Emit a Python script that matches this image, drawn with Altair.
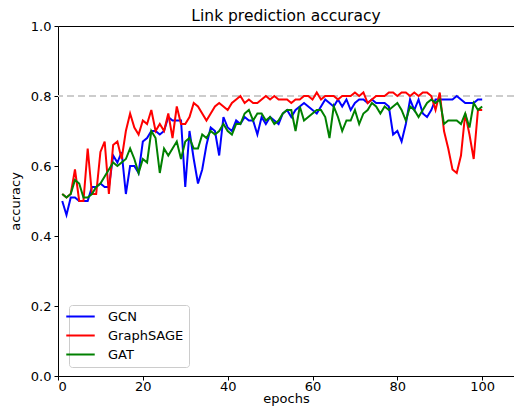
import altair as alt
import pandas as pd

epochs = list(range(1, 101))

gcn = [0.50, 0.46, 0.51, 0.51, 0.50, 0.50, 0.50, 0.54, 0.54, 0.55,
       0.54, 0.54, 0.63, 0.61, 0.64, 0.52, 0.60, 0.60, 0.58, 0.67,
       0.68, 0.70, 0.70, 0.69, 0.70, 0.74, 0.73, 0.73, 0.73, 0.54,
       0.70, 0.62, 0.55, 0.59, 0.66, 0.71, 0.70, 0.63, 0.74, 0.71,
       0.70, 0.73, 0.72, 0.74, 0.73, 0.73, 0.69, 0.74, 0.72, 0.74,
       0.73, 0.72, 0.75, 0.76, 0.74, 0.76, 0.77, 0.78, 0.77, 0.76,
       0.75, 0.77, 0.79, 0.78, 0.77, 0.79, 0.77, 0.79, 0.76, 0.78,
       0.79, 0.79, 0.78, 0.79, 0.78, 0.78, 0.78, 0.77, 0.69, 0.70,
       0.67, 0.72, 0.79, 0.76, 0.79, 0.75, 0.74, 0.76, 0.79, 0.79,
       0.79, 0.79, 0.79, 0.80, 0.79, 0.78, 0.78, 0.78, 0.79, 0.79]

graphsage = [0.52, 0.51, 0.52, 0.59, 0.50, 0.50, 0.65, 0.52, 0.52, 0.64,
             0.67, 0.52, 0.66, 0.67, 0.62, 0.70, 0.75, 0.71, 0.69, 0.73,
             0.72, 0.76, 0.70, 0.72, 0.70, 0.75, 0.68, 0.77, 0.72, 0.72,
             0.74, 0.78, 0.77, 0.75, 0.73, 0.75, 0.77, 0.78, 0.77, 0.76,
             0.78, 0.79, 0.80, 0.78, 0.79, 0.78, 0.78, 0.79, 0.80, 0.79,
             0.80, 0.79, 0.79, 0.79, 0.78, 0.79, 0.79, 0.80, 0.80, 0.79,
             0.81, 0.79, 0.80, 0.80, 0.80, 0.79, 0.80, 0.80, 0.80, 0.81,
             0.80, 0.81, 0.78, 0.79, 0.80, 0.80, 0.80, 0.81, 0.81, 0.80,
             0.81, 0.81, 0.80, 0.81, 0.80, 0.81, 0.81, 0.80, 0.76, 0.81,
             0.70, 0.65, 0.59, 0.58, 0.63, 0.75, 0.69, 0.62, 0.76, 0.76]

gat = [0.52, 0.51, 0.52, 0.56, 0.55, 0.51, 0.51, 0.52, 0.54, 0.55,
       0.57, 0.59, 0.61, 0.60, 0.61, 0.62, 0.65, 0.62, 0.58, 0.62,
       0.61, 0.70, 0.68, 0.58, 0.65, 0.63, 0.65, 0.67, 0.62, 0.67,
       0.68, 0.65, 0.65, 0.69, 0.68, 0.70, 0.69, 0.70, 0.72, 0.70,
       0.69, 0.72, 0.72, 0.75, 0.76, 0.73, 0.75, 0.75, 0.73, 0.74,
       0.72, 0.73, 0.75, 0.76, 0.76, 0.70, 0.77, 0.73, 0.74, 0.75,
       0.76, 0.76, 0.74, 0.68, 0.77, 0.74, 0.70, 0.73, 0.73, 0.76,
       0.72, 0.75, 0.76, 0.78, 0.77, 0.75, 0.77, 0.76, 0.77, 0.78,
       0.76, 0.73, 0.77, 0.76, 0.74, 0.76, 0.78, 0.79, 0.78, 0.79,
       0.72, 0.73, 0.73, 0.73, 0.72, 0.75, 0.71, 0.78, 0.76, 0.77]

series_names = ["GCN", "GraphSAGE", "GAT"]
series_colors = ["#0000ff", "#ff0000", "#008000"]
x_ticks = [0, 20, 40, 60, 80, 100]
y_ticks = [0.0, 0.2, 0.4, 0.6, 0.8, 1.0]
reference_level = [0.8]

df = pd.DataFrame({
    "epoch": epochs * 3,
    "accuracy": gcn + graphsage + gat,
    "model": ["GCN"] * 100 + ["GraphSAGE"] * 100 + ["GAT"] * 100,
})

FONT = "DejaVu Sans"
x_scale = alt.Scale(domain=[0, 107.5], nice=False, zero=False)
y_scale = alt.Scale(domain=[0, 1], nice=False)

axis_common = dict(
    domainColor="black", tickColor="black", labelColor="black", titleColor="black",
    tickSize=4, labelFont=FONT, labelFontSize=13,
    titleFont=FONT, titleFontSize=13, titleFontWeight="normal", grid=False,
)

ref = alt.Chart(pd.DataFrame({"level": reference_level})).mark_rule(
    color="#cccccc", strokeDash=[7, 4], strokeWidth=2
).encode(y=alt.Y("level:Q", scale=y_scale))

top_frame = alt.Chart(pd.DataFrame({"epoch": x_ticks})).mark_point(opacity=0).encode(
    x=alt.X("epoch:Q", scale=x_scale,
            axis=alt.Axis(orient="top", labels=False, ticks=False, title=None,
                          domainColor="black", grid=False))
)

lines = alt.Chart(df).mark_line(strokeWidth=2, clip=True).encode(
    x=alt.X("epoch:Q", scale=x_scale,
            axis=alt.Axis(values=x_ticks, title="epochs", labelPadding=0,
                          titlePadding=-1, **axis_common)),
    y=alt.Y("accuracy:Q", scale=y_scale,
            axis=alt.Axis(values=y_ticks, format=".1f", title="accuracy", labelPadding=3,
                          titlePadding=8, **axis_common)),
    color=alt.Color("model:N", sort=series_names,
                    scale=alt.Scale(domain=series_names, range=series_colors),
                    legend=alt.Legend(
                        title=None, orient="none", legendX=11, legendY=279,
                        fillColor="white", strokeColor="#cccccc", cornerRadius=3,
                        padding=5, labelFont=FONT, labelFontSize=13, labelColor="black",
                        symbolType="M-3,0H3", symbolStrokeWidth=2, symbolSize=90,
                        labelOffset=21, rowPadding=5,
                    )),
)

chart = alt.layer(ref, top_frame, lines).resolve_axis(x="independent").properties(
    width=456, height=350,
    padding={"left": 50, "top": 18, "right": 0, "bottom": 30},
    autosize=alt.AutoSizeParams(type="none"),
    title=alt.Title("Link prediction accuracy", font=FONT, fontSize=15.5,
                    fontWeight="normal", color="black", offset=-4),
).configure_view(stroke=None)

chart.save("out.html", embed_options={"renderer": "svg", "actions": False})
